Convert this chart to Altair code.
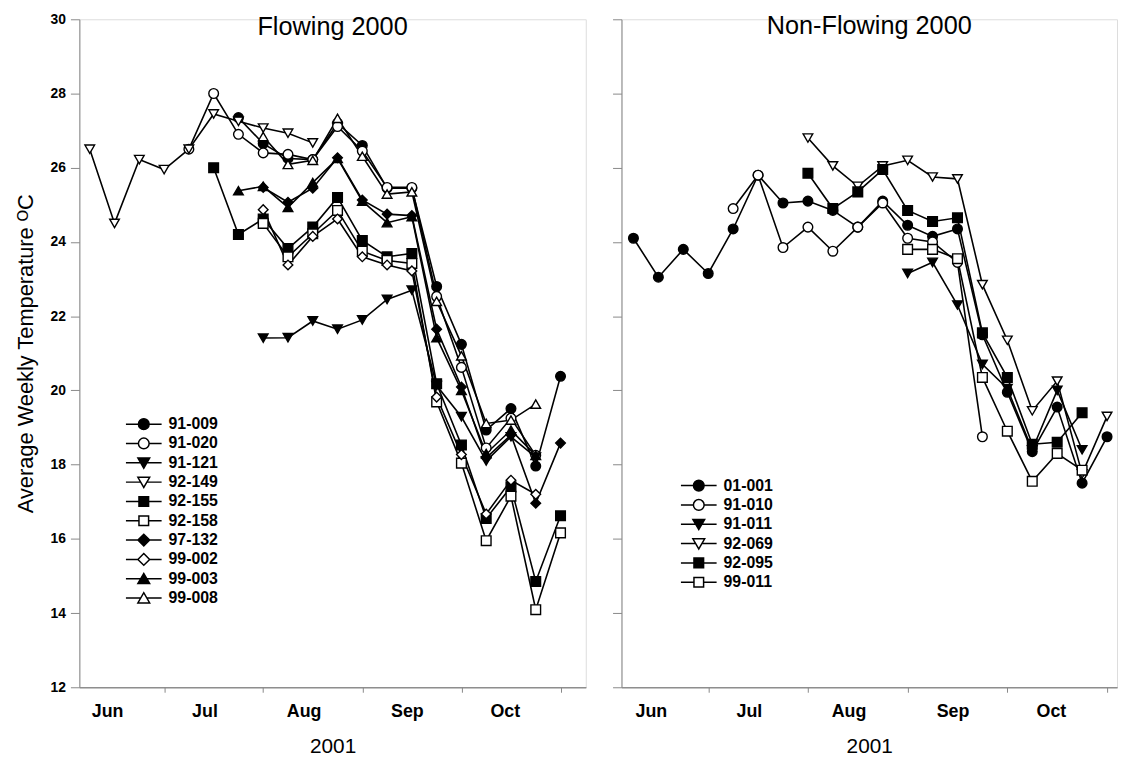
import altair as alt
import pandas as pd

N = None
weeks = list(range(20))
month_ticks = [3, 7, 11, 15, 19]
month_label_pos = [0.7, 4.63, 8.63, 12.8, 16.75]
month_labels = ["Jun", "Jul", "Aug", "Sep", "Oct"]
y_ticks = [12, 14, 16, 18, 20, 22, 24, 26, 28, 30]

# ---- Flowing 2000 (left panel) ----
f_91_009 = [N, N, N, N, N, N, 27.35, 26.65, 26.25, 26.22, 27.2, 26.6, 25.45, 25.45, 22.8, 21.24, 18.93, 19.51, 17.96, 20.38]
f_91_020 = [N, N, N, N, 26.5, 28.0, 26.9, 26.4, 26.36, 26.22, 27.11, 26.45, 25.47, 25.47, 22.53, 20.62, 18.45, 19.25, 18.25, N]
f_91_121 = [N, N, N, N, N, N, N, 21.41, 21.42, 21.87, 21.65, 21.9, 22.45, 22.7, 20.13, 19.29, 18.1, 18.75, 18.2, N]
f_92_149 = [26.5, 24.5, 26.22, 25.95, 26.5, 27.45, 27.25, 27.07, 26.93, 26.67, N, N, N, N, N, N, N, N, N, N]
f_92_155 = [N, N, N, N, N, 26.0, 24.2, 24.62, 23.82, 24.4, 25.2, 24.04, 23.6, 23.69, 20.18, 18.53, 16.55, 17.4, 14.85, 16.62]
f_92_158 = [N, N, N, N, N, N, N, 24.5, 23.6, 24.22, 24.85, 23.75, 23.5, 23.42, 19.69, 18.04, 15.95, 17.15, 14.09, 16.16]
f_97_132 = [N, N, N, N, N, N, N, 25.47, 25.07, 25.45, 26.27, 25.13, 24.75, 24.71, 21.65, 20.09, 18.18, 18.8, 16.96, 18.58]
f_99_002 = [N, N, N, N, N, N, N, 24.87, 23.38, 24.15, 24.62, 23.6, 23.38, 23.22, 19.82, 18.27, 16.67, 17.58, 17.2, N]
f_99_003 = [N, N, N, N, N, N, 25.38, 25.5, 24.93, 25.6, 26.25, 25.1, 24.52, 24.68, 21.42, 20.0, 18.3, 18.93, 18.25, N]
f_99_008 = [N, N, N, N, N, N, N, 26.84, 26.09, 26.2, 27.33, 26.31, 25.29, 25.35, 22.4, 20.93, 19.11, 19.2, 19.63, N]

left_names = ["91-009", "91-020", "91-121", "92-149", "92-155", "92-158", "97-132", "99-002", "99-003", "99-008"]
left_values = [f_91_009, f_91_020, f_91_121, f_92_149, f_92_155, f_92_158, f_97_132, f_99_002, f_99_003, f_99_008]
left_shapes = ["circle", "circle", "triangle-down", "triangle-down", "square", "square",
               "diamond", "diamond", "triangle-up", "triangle-up"]
left_fills = ["black", "white"] * 5

# ---- Non-Flowing 2000 (right panel) ----
n_01_001 = [24.1, 23.05, 23.8, 23.15, 24.35, 25.8, 25.05, 25.1, 24.85, 24.4, 25.1, 24.45, 24.15, 24.35, 21.5, 19.95, 18.35, 19.55, 17.5, 18.75]
n_91_010 = [N, N, N, N, 24.9, 25.8, 23.85, 24.4, 23.75, 24.4, 25.05, 24.1, 24.0, 23.45, 18.75, N, N, N, N, N]
n_91_011 = [N, N, N, N, N, N, N, N, N, N, N, 23.15, 23.45, 22.3, 20.7, 20.05, 18.4, 20.0, 18.4, N]
n_92_069 = [N, N, N, N, N, N, N, 26.8, 26.05, 25.5, 26.05, 26.2, 25.75, 25.7, 22.85, 21.35, 19.45, 20.25, 17.75, 19.3]
n_92_095 = [N, N, N, N, N, N, N, 25.85, 24.9, 25.35, 25.95, 24.85, 24.55, 24.65, 21.55, 20.35, 18.55, 18.6, 19.4, N]
n_99_011 = [N, N, N, N, N, N, N, N, N, N, N, 23.8, 23.8, 23.55, 20.35, 18.9, 17.55, 18.3, 17.85, N]

right_names = ["01-001", "91-010", "91-011", "92-069", "92-095", "99-011"]
right_values = [n_01_001, n_91_010, n_91_011, n_92_069, n_92_095, n_99_011]
right_shapes = ["circle", "circle", "triangle-down", "triangle-down", "square", "square"]
right_fills = ["black", "white"] * 3

# legend symbols: marker with a short line through it
LEG_PATH = {
    "circle": "M-1,0H-0.3M0.3,0H1M-0.3,0A0.3,0.3 0 1,0 0.3,0A0.3,0.3 0 1,0 -0.3,0Z",
    "square": "M-1,0H-0.27M0.27,0H1M-0.27,-0.27H0.27V0.27H-0.27Z",
    "triangle-down": "M-1,0H-0.18M0.18,0H1M-0.33,-0.27L0.33,-0.27L0,0.3Z",
    "triangle-up": "M-1,0H-0.18M0.18,0H1M-0.33,0.27L0.33,0.27L0,-0.3Z",
    "diamond": "M-1,0H-0.33M0.33,0H1M0,-0.33L0.33,0L0,0.33L-0.33,0Z",
}

FONT = "Liberation Sans"


def long_table(names, values):
    rows = []
    for name, vals in zip(names, values):
        for w, v in zip(weeks, vals):
            if v is not None:
                rows.append({"week": w, "temp": v, "series": name})
    return pd.DataFrame(rows)


label_expr = " : ".join(
    f"abs(datum.value - {p}) < 0.01 ? '{m}'" for p, m in zip(month_label_pos, month_labels)
) + " : ''"


def panel(names, values, shapes, fills, xdom, width, title, first, lx, ly, title_dy):
    df = long_table(names, values)
    xscale = alt.Scale(domain=xdom, nice=False, zero=False)
    x_lab = alt.X(
        "week:Q", scale=xscale,
        axis=alt.Axis(values=month_label_pos, labelExpr=label_expr, ticks=False,
                      orient="bottom", labelPadding=15, labelFontSize=18,
                      labelFontWeight="bold", title="2001", titleFontSize=21,
                      titleFontWeight="normal", titlePadding=16, grid=False),
    )
    x_tick = alt.X(
        "week:Q", scale=xscale,
        axis=alt.Axis(values=month_ticks, labels=False, tickSize=5, orient="bottom",
                      title=None, grid=False),
    )
    if first:
        yaxis = alt.Axis(values=y_ticks, tickSize=9, labelPadding=5, labelFontSize=14,
                         labelFontWeight="bold", title="Average Weekly Temperature \u1d3cC",
                         titleFontSize=22, titleFontWeight="normal", titlePadding=13,
                         grid=False)
    else:
        yaxis = alt.Axis(values=y_ticks, tickSize=9, labels=False, title=None, grid=False)
    y = alt.Y("temp:Q", scale=alt.Scale(domain=[12, 30], nice=False, zero=False), axis=yaxis)

    lines = alt.Chart(df).mark_line(color="black", strokeWidth=1.6).encode(
        x=x_lab, y=y, detail="series:N"
    )
    pts = alt.Chart(df).mark_point(
        filled=True, size=95, stroke="black", strokeWidth=1.4, opacity=1
    ).encode(
        x=x_tick, y=y,
        shape=alt.Shape("series:N", scale=alt.Scale(domain=names, range=shapes), legend=None),
        fill=alt.Fill("series:N", scale=alt.Scale(domain=names, range=fills), legend=None),
    )
    leg_def = alt.Legend(
        orient="none", legendX=lx, legendY=ly, title=None, padding=0,
        labelFont=FONT, labelFontSize=16, labelFontWeight="bold", labelColor="black",
        labelOffset=6, symbolSize=1296, symbolStrokeWidth=1.5,
        symbolStrokeColor="black", rowPadding=2.5, clipHeight=17,
    )
    leg = alt.Chart(df).transform_filter("datum.temp < 0").mark_point(
        filled=True, strokeWidth=1.5, opacity=1
    ).encode(
        y=y,
        shape=alt.Shape("series:N",
                        scale=alt.Scale(domain=names, range=[LEG_PATH[s] for s in shapes]),
                        legend=leg_def),
        fill=alt.Fill("series:N", scale=alt.Scale(domain=names, range=fills), legend=leg_def),
        stroke=alt.Stroke("series:N", scale=alt.Scale(domain=names, range=["black"] * len(names)),
                          legend=leg_def),
    )
    return alt.layer(lines, pts, leg).resolve_scale(
        shape="independent", fill="independent", stroke="independent"
    ).resolve_axis(x="independent").resolve_legend(
        shape="independent", fill="independent", stroke="independent"
    ).properties(
        width=width, height=674,
        title=alt.TitleParams(title, fontSize=25.5, fontWeight="normal", font=FONT,
                              anchor="middle", frame="group", offset=-30, dy=title_dy,
                              baseline="alphabetic", color="black"),
    )


left = panel(left_names, left_values, left_shapes, left_fills, [-0.42, 20.02], 511,
             "Flowing 2000", True, 46, 400, 18)
right = panel(right_names, right_values, right_shapes, right_fills, [-0.48, 19.4], 500,
              "Non-Flowing 2000", False, 59, 462, 11)

chart = alt.hconcat(left, right, spacing=25).resolve_scale(
    shape="independent", fill="independent", stroke="independent",
    x="independent", y="independent"
).resolve_legend(shape="independent", fill="independent", stroke="independent").properties(
    padding={"left": 5, "top": 0, "right": 0, "bottom": 0}
).configure_view(stroke=None).configure_axis(
    domainColor="black", domainWidth=2, tickColor="black", tickWidth=1.5,
    labelColor="black", titleColor="black", labelFont=FONT, titleFont=FONT,
).configure(background="white")

chart.save("out.html", embed_options={"renderer": "svg", "actions": False})
